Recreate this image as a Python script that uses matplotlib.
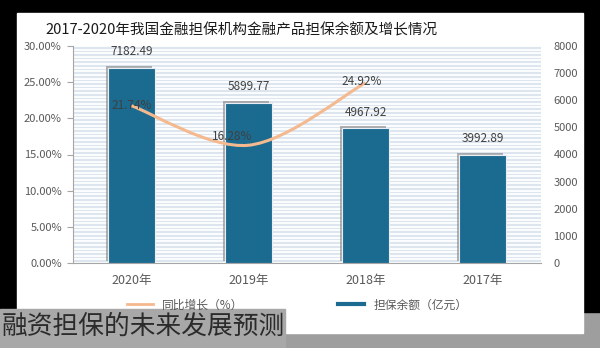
import numpy as np
import matplotlib
matplotlib.use('Agg')
import matplotlib.pyplot as plt
from matplotlib.patches import Rectangle, PathPatch
from matplotlib.path import Path
from matplotlib.lines import Line2D
import matplotlib.patheffects as pe

plt.rcParams['font.family'] = ['Noto Sans CJK SC', 'DejaVu Sans']

# 数据（自左向右：2020 -> 2017）
years = ['2020年', '2019年', '2018年', '2017年']
balance = [7182.49, 5899.77, 4967.92, 3992.89]      # 担保余额（亿元）
growth = [21.74, 16.28, 24.92, None]                # 同比增长（%）
growth_offsets = [(0, 0), (-12, 6), (-3, 1)]

bar_color = '#1b6a8f'
line_color = '#f4b98e'
text_color = '#595959'

W, H = 600, 348
fig = plt.figure(figsize=(W / 100, H / 100), dpi=100)
fig.patch.set_facecolor('#9e9e9e')


def px_rect(x0, y0, x1, y1, color):
    fig.patches.append(Rectangle((x0 / W, 1 - y1 / H), (x1 - x0) / W, (y1 - y0) / H,
                                 transform=fig.transFigure, color=color, zorder=-10))


px_rect(0, 0, 600, 312, 'black')
px_rect(17, 13, 583, 333, 'white')
px_rect(0, 309, 285, 348, '#a8a8a8')

# 柱状图：担保余额
ax = fig.add_axes([73 / W, 85 / H, 468 / W, 217 / H])
ax2 = ax.twinx()

ax.set_facecolor('#dde6ef')
for v in np.linspace(0, 8000, 61):
    ax.axhline(v, color='white', lw=1.3, zorder=0.5)

x = np.arange(len(years))
bars = ax.bar(x, balance, width=0.4, color=bar_color, edgecolor='#e8eef4', linewidth=0.8,
              zorder=3, path_effects=[pe.SimplePatchShadow(offset=(-1.8, 1.3), shadow_rgbFace='#808080', alpha=0.6),
                                      pe.Normal()])
ax.bar_label(bars, labels=[f'{v:.2f}' for v in balance], padding=7, fontsize=8.5, color='#404040')
ax.set_xlim(-0.5, len(years) - 0.5)
ax.set_ylim(0, 8000)
ax.yaxis.tick_right()
ax.set_yticks(np.arange(0, 8001, 1000))
ax.tick_params(axis='y', length=0, pad=9, labelsize=8, labelcolor=text_color)
ax.set_xticks(x)
ax.set_xticklabels(years)
ax.tick_params(axis='x', length=0, pad=8, labelsize=9, labelcolor=text_color)
for s in ['top', 'right', 'left']:
    ax.spines[s].set_visible(False)
ax.spines['bottom'].set_color('#a6a6a6')

# 折线：同比增长
ax2.patch.set_visible(False)
ax2.set_ylim(0, 30)
ax2.yaxis.tick_left()
ax2.set_yticks(np.arange(0, 31, 5))
ax2.set_yticklabels([f'{v:.2f}%' for v in np.arange(0, 31, 5)])
ax2.tick_params(axis='y', length=4, color='#a6a6a6', pad=4, labelsize=8, labelcolor=text_color)
for s in ['top', 'right', 'bottom']:
    ax2.spines[s].set_visible(False)
ax2.spines['left'].set_color('#a6a6a6')

pts = np.array([(i, g) for i, g in enumerate(growth) if g is not None], dtype=float)
verts = [pts[0]]
codes = [Path.MOVETO]
for i in range(len(pts) - 1):
    p0 = pts[max(i - 1, 0)]
    p1, p2 = pts[i], pts[i + 1]
    p3 = pts[min(i + 2, len(pts) - 1)]
    verts += [p1 + (p2 - p0) / 6, p2 - (p3 - p1) / 6, p2]
    codes += [Path.CURVE4] * 3
ax2.add_patch(PathPatch(Path(verts, codes), fill=False, edgecolor=line_color, lw=2.2, zorder=4))

for (px, py), off in zip(pts, growth_offsets):
    ax2.annotate(f'{py:.2f}%', (px, py), xytext=off, textcoords='offset points',
                 ha='center', va='center', fontsize=8.5, color='#404040', zorder=5)

fig.text(242 / W, 1 - 30 / H, '2017-2020年我国金融担保机构金融产品担保余额及增长情况',
         ha='center', va='center', fontsize=10.5, color='#1a1a1a')

handles = [Line2D([], [], color=line_color, lw=2), Line2D([], [], color=bar_color, lw=3)]
fig.legend(handles, ['同比增长（%）', '担保余额（亿元）'], ncol=2, loc='center',
           bbox_to_anchor=(297 / W, 1 - 305 / H), frameon=False, fontsize=8.5,
           labelcolor=text_color, columnspacing=8, handlelength=2.2)

fig.text(2 / W, 1 - 327 / H, '融资担保的未来发展预测', ha='left', va='center',
         fontsize=18.5, color='#2b2b2b')

fig.savefig('out.png', dpi=100, facecolor=fig.get_facecolor())
